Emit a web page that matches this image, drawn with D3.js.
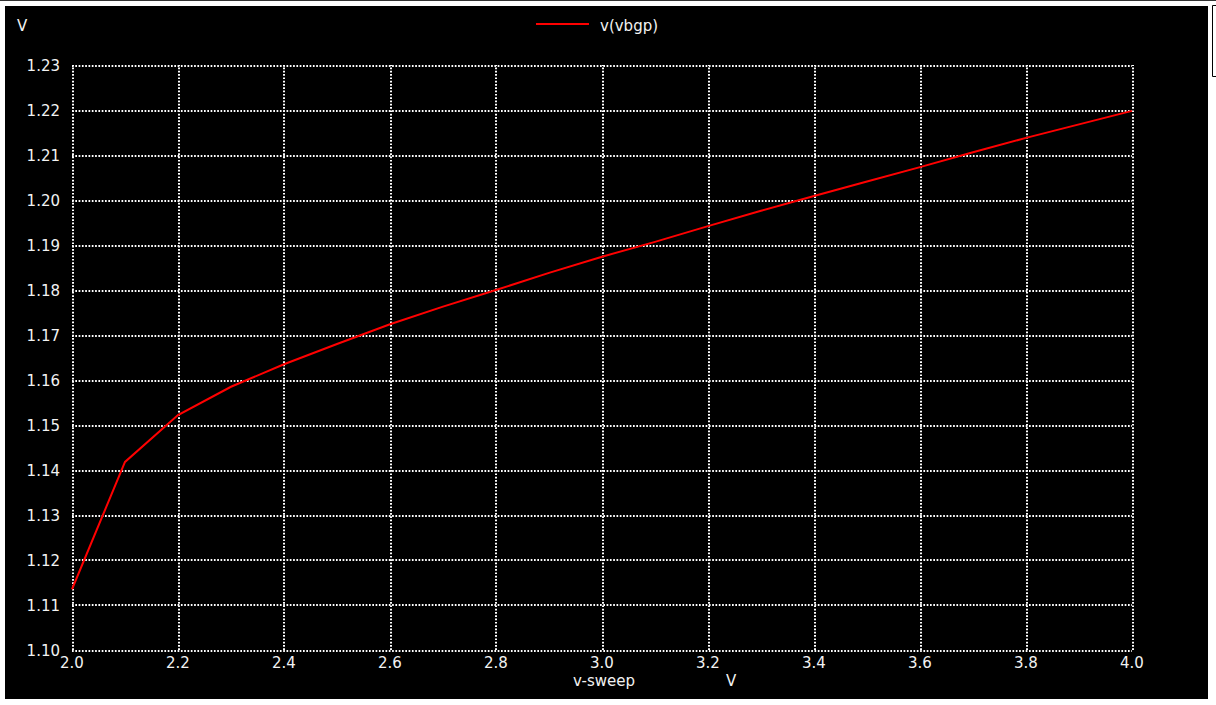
<!DOCTYPE html>
<html>
<head>
<meta charset="utf-8">
<script src="https://cdn.jsdelivr.net/npm/d3@7"></script>
<style>
  html, body { margin: 0; padding: 0; background: #fff; }
  svg { display: block; }
  text { font-family: "DejaVu Sans", sans-serif; font-size: 15px; fill: #f2f2f2; }
</style>
</head>
<body>
<script>
// --- Data ---
const sweep = [2.0, 2.1, 2.2, 2.3, 2.4, 2.5, 2.6, 2.7, 2.8, 2.9, 3.0,
               3.1, 3.2, 3.3, 3.4, 3.5, 3.6, 3.7, 3.8, 3.9, 4.0];
const vbgp = [1.1135, 1.1418, 1.1522, 1.1585, 1.1635, 1.1680, 1.1724, 1.1763, 1.1800, 1.1838, 1.1874,
              1.1907, 1.1942, 1.1976, 1.2009, 1.2041, 1.2073, 1.2106, 1.2138, 1.2168, 1.2198];
const xTicks = [2.0, 2.2, 2.4, 2.6, 2.8, 3.0, 3.2, 3.4, 3.6, 3.8, 4.0];
const yTicks = [1.10, 1.11, 1.12, 1.13, 1.14, 1.15, 1.16, 1.17, 1.18, 1.19, 1.20, 1.21, 1.22, 1.23];
const seriesName = "v(vbgp)";
const xTitle = "v-sweep";
const xUnit = "V";
const yUnit = "V";

const W = 1216, H = 705;
const plot = { left: 72, top: 65, right: 1132, bottom: 650 };

const svg = d3.select("body").append("svg")
    .attr("width", W)
    .attr("height", H);

// outer frame
svg.append("rect").attr("x", 0).attr("y", 0).attr("width", W).attr("height", 1).attr("fill", "#333");
svg.append("rect").attr("x", 5).attr("y", 6).attr("width", 1203).attr("height", 693).attr("fill", "#000");
svg.append("path")
    .attr("d", "M1216.5,5.5 H1212.5 V76.5 H1216.5")
    .attr("fill", "#fff")
    .attr("stroke", "#000");

const x = d3.scaleLinear().domain([2.0, 4.0]).range([plot.left, plot.right]);
const y = d3.scaleLinear().domain([1.10, 1.23]).range([plot.bottom, plot.top]);

// --- Grid (dotted) ---
svg.append("g")
    .attr("transform", `translate(0,${plot.bottom})`)
    .call(d3.axisBottom(x).tickValues(xTicks).tickSize(-(plot.bottom - plot.top)).tickFormat(""));
svg.append("g")
    .attr("transform", `translate(${plot.left},0)`)
    .call(d3.axisLeft(y).tickValues(yTicks).tickSize(-(plot.right - plot.left)).tickFormat(""));

svg.selectAll(".domain").remove();
svg.selectAll(".tick").attr("transform", function () {
    // keep grid on whole pixels
    const t = d3.select(this).attr("transform");
    return t.replace(/[\d.]+/g, v => Math.round(+v));
});
svg.selectAll(".tick line")
    .attr("stroke", "#fff")
    .attr("stroke-width", 2)
    .attr("stroke-dasharray", "1.7,1.6");

// --- Tick labels ---
svg.append("g").selectAll("text")
    .data(yTicks)
    .join("text")
    .attr("x", 60)
    .attr("y", d => y(d) + 6)
    .attr("text-anchor", "end")
    .text(d => d3.format(".2f")(d));

svg.append("g").selectAll("text")
    .data(xTicks)
    .join("text")
    .attr("x", d => x(d))
    .attr("y", 668)
    .attr("text-anchor", "middle")
    .text(d => d3.format(".1f")(d));

// axis titles
svg.append("text").attr("x", 17).attr("y", 31).text(yUnit);
svg.append("text").attr("x", 573).attr("y", 686).text(xTitle);
svg.append("text").attr("x", 726).attr("y", 686).text(xUnit);

// --- Series ---
const line = d3.line()
    .x((d, i) => x(sweep[i]))
    .y(d => y(d));

svg.append("path")
    .datum(vbgp)
    .attr("fill", "none")
    .attr("stroke", "#ff0000")
    .attr("stroke-width", 2)
    .attr("d", line);

// --- Legend ---
svg.append("line")
    .attr("x1", 536).attr("x2", 589)
    .attr("y1", 24).attr("y2", 24)
    .attr("stroke", "#ff0000")
    .attr("stroke-width", 2);
svg.append("text").attr("x", 600).attr("y", 31).text(seriesName);
</script>
</body>
</html>
